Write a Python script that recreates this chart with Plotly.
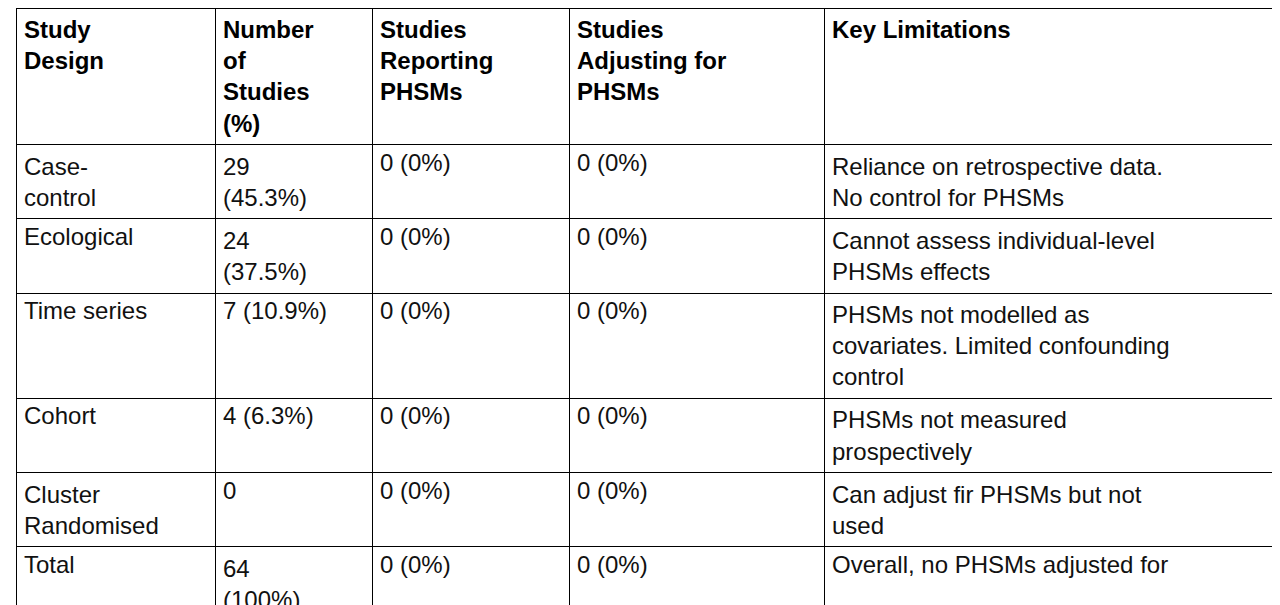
import plotly.graph_objects as go

headers = ["Study<br>Design", "Number<br>of<br>Studies<br>(%)", "Studies<br>Reporting<br>PHSMs",
           "Studies<br>Adjusting for<br>PHSMs", "Key Limitations"]
design = ["Case-<br>control", "Ecological", "Time series", "Cohort", "Cluster<br>Randomised", "Total"]
number = ["29<br>(45.3%)", "24<br>(37.5%)", "7 (10.9%)", "4 (6.3%)", "0", "64<br>(100%)"]
reporting = ["0 (0%)"] * 6
adjusting = ["0 (0%)"] * 6
limitations = [
    "Reliance on retrospective data.<br>No control for PHSMs",
    "Cannot assess individual-level<br>PHSMs effects",
    "PHSMs not modelled as<br>covariates. Limited confounding<br>control",
    "PHSMs not measured<br>prospectively",
    "Can adjust fir PHSMs but not<br>used",
    "Overall, no PHSMs adjusted for",
]

widths = [199, 157, 197, 255, 456]

fig = go.Figure(go.Table(
    columnwidth=widths,
    header=dict(values=["<b>" + h.replace("<br>", "</b><br><b>") + "</b>" for h in headers],
                align="left", fill_color="white", line_color="black",
                font=dict(family="Liberation Sans", size=24, color="black"), height=30),
    cells=dict(values=[design, number, reporting, adjusting, limitations],
               align="left", fill_color="white", line_color="black",
               font=dict(family="Liberation Sans", size=24, color="#111"), height=30),
))
fig.update_layout(width=1280, height=605, margin=dict(l=8, r=8, t=0, b=0),
                  paper_bgcolor="white")
fig.write_html("out.html")
